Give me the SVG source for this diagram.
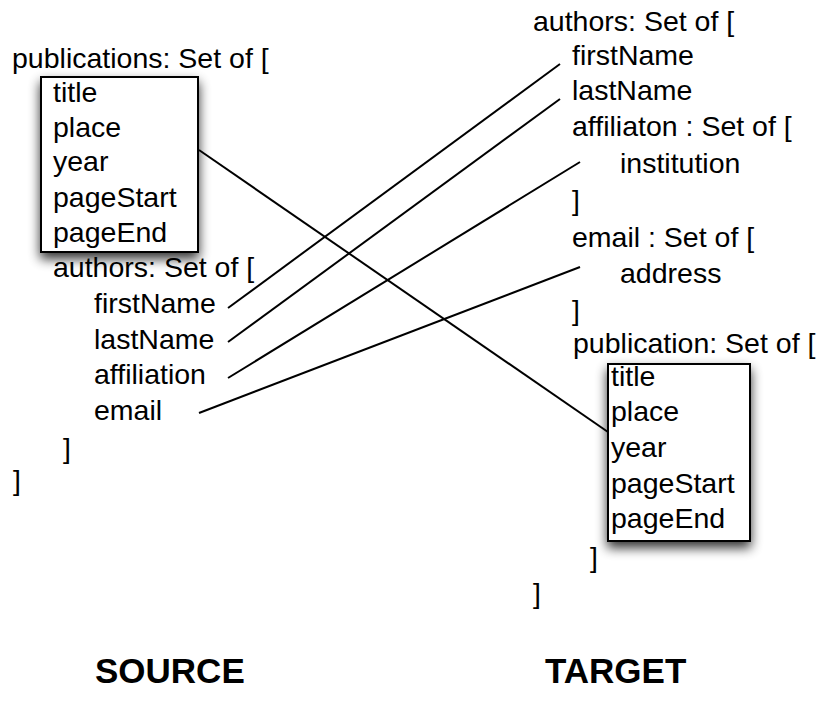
<svg xmlns="http://www.w3.org/2000/svg" width="820" height="711" viewBox="0 0 820 711">
<defs>
<style>
text{font-family:"Liberation Sans",Arial,Helvetica,sans-serif;font-size:28.5px;fill:#000}
.lbl{font-weight:bold;font-size:35px}
.box{fill:#fff;stroke:#000;stroke-width:2}
.conn line{stroke:#000;stroke-width:2;fill:none}
</style>
<filter id="sh" x="-25%" y="-20%" width="150%" height="150%">
<feGaussianBlur in="SourceAlpha" stdDeviation="6"/>
<feOffset dx="0" dy="6" result="b"/>
<feComponentTransfer><feFuncA type="linear" slope="0.8"/></feComponentTransfer>
<feMerge><feMergeNode/><feMergeNode in="SourceGraphic"/></feMerge>
</filter>
</defs>
<rect width="820" height="711" fill="#fff"/>
<g id="source">
<text x="12" y="68">publications: Set of [</text>
<g id="source-pub-box">
<rect class="box" x="41" y="77" width="157" height="175" filter="url(#sh)"/>
<text x="53" y="102">title</text>
<text x="53" y="137">place</text>
<text x="53" y="171">year</text>
<text x="53" y="207">pageStart</text>
<text x="53" y="242">pageEnd</text>
</g>
<text x="53" y="277">authors: Set of [</text>
<text x="94" y="313">firstName</text>
<text x="94" y="349">lastName</text>
<text x="94" y="384">affiliation</text>
<text x="94" y="420">email</text>
<text x="63" y="458">]</text>
<text x="13" y="490">]</text>
</g>
<g id="target">
<text x="533" y="31">authors: Set of [</text>
<text x="572" y="65">firstName</text>
<text x="572" y="100">lastName</text>
<text x="572" y="136">affiliaton : Set of [</text>
<text x="620" y="173">institution</text>
<text x="572" y="210">]</text>
<text x="572" y="247">email : Set of [</text>
<text x="620" y="283">address</text>
<text x="572" y="320">]</text>
<text x="573" y="353">publication: Set of [</text>
<g id="target-pub-box">
<rect class="box" x="608" y="364" width="142" height="177" filter="url(#sh)"/>
<text x="611" y="386">title</text>
<text x="611" y="421">place</text>
<text x="611" y="457">year</text>
<text x="611" y="493">pageStart</text>
<text x="611" y="528">pageEnd</text>
</g>
<text x="590" y="567">]</text>
<text x="533" y="603">]</text>
</g>
<g class="conn" id="connectors">
<line x1="199" y1="150" x2="608" y2="432"/>
<line x1="228" y1="308" x2="560" y2="64"/>
<line x1="228" y1="342" x2="560" y2="99"/>
<line x1="228" y1="378" x2="580" y2="162"/>
<line x1="199" y1="413" x2="580" y2="267"/>
</g>
<text class="lbl" x="95" y="683">SOURCE</text>
<text class="lbl" x="545" y="683">TARGET</text>
</svg>
